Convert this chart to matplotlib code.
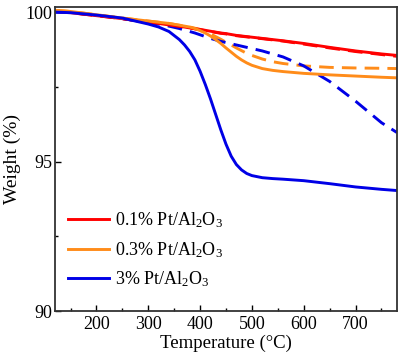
import matplotlib
matplotlib.use("Agg")
import matplotlib.pyplot as plt
from matplotlib.ticker import MultipleLocator

plt.rcParams['font.family'] = ['Liberation Serif', 'DejaVu Serif']
plt.rcParams['mathtext.fontset'] = 'custom'
plt.rcParams['mathtext.rm'] = 'Liberation Serif'
plt.rcParams['mathtext.it'] = 'Liberation Serif:italic'

temperature = [120, 150, 200, 250, 300, 320, 340, 360, 370, 380, 390, 400, 410, 420, 430,
               440, 450, 460, 470, 480, 490, 500, 520, 540, 560, 600, 650, 700, 750, 780]

red_solid = [100.03, 99.98, 99.88, 99.78, 99.66, 99.62, 99.57, 99.52, 99.50, 99.47, 99.44, 99.42,
             99.39, 99.36, 99.33, 99.30, 99.28, 99.25, 99.22, 99.20, 99.18, 99.16, 99.12, 99.08,
             99.04, 98.95, 98.82, 98.70, 98.60, 98.55]
red_dashed = [100.03, 99.98, 99.88, 99.78, 99.66, 99.62, 99.57, 99.52, 99.50, 99.47, 99.44, 99.41,
              99.38, 99.35, 99.32, 99.29, 99.27, 99.24, 99.21, 99.19, 99.17, 99.15, 99.11, 99.07,
              99.03, 98.93, 98.80, 98.68, 98.58, 98.52]
orange_solid = [100.06, 100.02, 99.91, 99.80, 99.70, 99.66, 99.62, 99.56, 99.53, 99.50, 99.45, 99.38,
                99.30, 99.20, 99.08, 98.95, 98.80, 98.66, 98.52, 98.40, 98.30, 98.22, 98.11, 98.05,
                98.01, 97.95, 97.90, 97.86, 97.82, 97.80]
orange_dashed = [100.06, 100.02, 99.91, 99.80, 99.70, 99.66, 99.62, 99.56, 99.53, 99.50, 99.46, 99.42,
                 99.35, 99.27, 99.18, 99.09, 98.99, 98.90, 98.80, 98.71, 98.62, 98.55, 98.43, 98.34,
                 98.28, 98.20, 98.15, 98.13, 98.12, 98.11]
blue_solid = [100.00, 99.98, 99.90, 99.80, 99.60, 99.50, 99.35, 99.08, 98.90, 98.68, 98.40, 98.02,
              97.58, 97.10, 96.58, 96.06, 95.58, 95.18, 94.90, 94.72, 94.60, 94.53, 94.46, 94.43,
              94.41, 94.36, 94.26, 94.15, 94.07, 94.03]
blue_dashed = [100.00, 99.98, 99.90, 99.78, 99.65, 99.60, 99.53, 99.45, 99.40, 99.35, 99.30, 99.24,
               99.18, 99.12, 99.07, 99.02, 98.98, 98.94, 98.90, 98.86, 98.82, 98.78, 98.70, 98.60,
               98.50, 98.20, 97.68, 97.02, 96.30, 95.97]

labels = ['0.1% Pt/Al$_2$O$_3$', '0.3% Pt/Al$_2$O$_3$', '3% Pt/Al$_2$O$_3$']
colors = ['#ff0000', '#ff8c1a', '#0000e6']

fig = plt.figure(figsize=(4.14, 3.54), dpi=100)
ax = fig.add_axes([55/414, 1-311/354, (397-55)/414, (311-7)/354])

lw = 2.1
dash = (5, 2.8)
ax.plot(temperature, red_dashed, color=colors[0], lw=lw, dashes=dash)
ax.plot(temperature, orange_dashed, color=colors[1], lw=lw, dashes=dash)
ax.plot(temperature, blue_dashed, color=colors[2], lw=lw, dashes=dash)
l1, = ax.plot(temperature, red_solid, color=colors[0], lw=lw, label=labels[0])
l2, = ax.plot(temperature, orange_solid, color=colors[1], lw=lw, label=labels[1])
l3, = ax.plot(temperature, blue_solid, color=colors[2], lw=lw, label=labels[2])

ax.set_xlim(120, 780)
ax.set_ylim(90, 100.17)
ax.xaxis.set_major_locator(MultipleLocator(100))
ax.xaxis.set_minor_locator(MultipleLocator(50))
ax.yaxis.set_major_locator(MultipleLocator(5))
ax.yaxis.set_minor_locator(MultipleLocator(2.5))
ax.tick_params(which='both', direction='in', labelsize=13, width=1)
ax.tick_params(which='major', length=4)
ax.tick_params(which='minor', length=2.5)
ax.tick_params(axis='y', pad=2)
for s in ax.spines.values():
    s.set_linewidth(1.3)
    s.set_color('#333333')

ax.set_xlabel('Temperature (\u00b0C)', fontsize=13.5, labelpad=1)
ax.set_ylabel('Weight (%)', fontsize=14, labelpad=3)

ax.legend(handles=[l1, l2, l3], loc='lower left', bbox_to_anchor=(0.0, 0.03), frameon=False,
          fontsize=13, handlelength=2.3, handletextpad=0.35, labelspacing=0.55, borderaxespad=0.3)

fig.savefig('out.png', dpi=100)
